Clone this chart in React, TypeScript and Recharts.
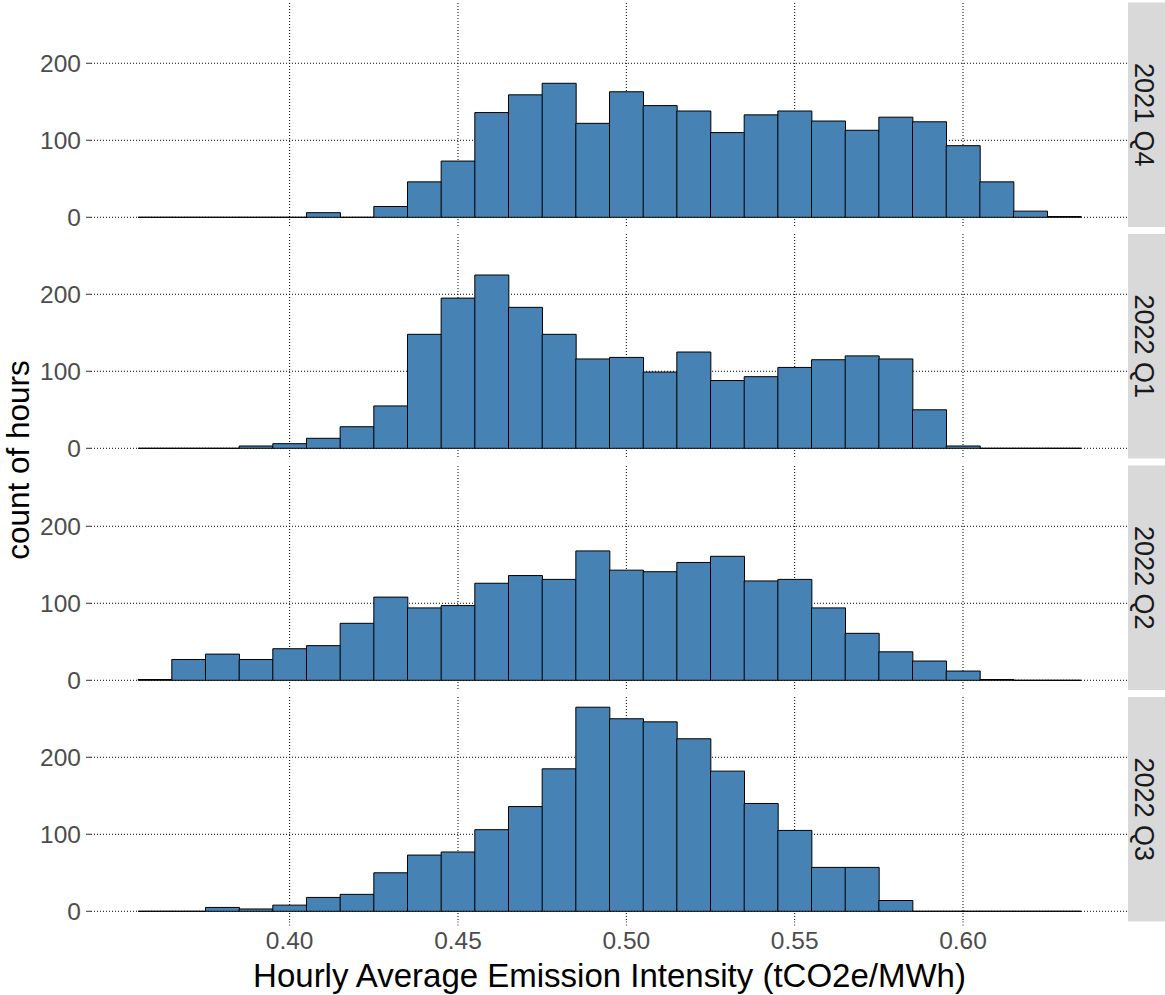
import React from 'react';
import { BarChart, Bar, XAxis, YAxis, CartesianGrid } from 'recharts';

// ---- data ----
const binCenters = [
  0.36, 0.37, 0.38, 0.39, 0.40, 0.41, 0.42, 0.43, 0.44, 0.45, 0.46, 0.47, 0.48, 0.49,
  0.50, 0.51, 0.52, 0.53, 0.54, 0.55, 0.56, 0.57, 0.58, 0.59, 0.60, 0.61, 0.62, 0.63,
];
const q4_2021 = [0, 0, 0, 0, 0, 6, 0, 14, 46, 73, 136, 159, 174, 122, 163, 145, 138, 110, 133, 138, 125, 113, 130, 124, 93, 46, 8, 1];
const q1_2022 = [0, 0, 0, 3, 6, 13, 28, 55, 148, 195, 225, 183, 148, 116, 118, 99, 125, 88, 93, 105, 115, 120, 116, 50, 3, 0, 0, 0];
const q2_2022 = [1, 27, 34, 27, 41, 45, 74, 108, 94, 97, 126, 136, 131, 168, 143, 141, 153, 161, 129, 131, 94, 61, 37, 25, 12, 1, 0, 0];
const q3_2022 = [0, 0, 5, 3, 8, 18, 22, 50, 73, 77, 106, 136, 185, 265, 250, 246, 224, 182, 140, 105, 57, 57, 14, 0, 0, 0, 0, 0];
const facetLabels = ['2021 Q4', '2022 Q1', '2022 Q2', '2022 Q3'];
const facetSeries = [q4_2021, q1_2022, q2_2022, q3_2022];
const xTicks = [0.4, 0.45, 0.5, 0.55, 0.6];
const yTicks = [0, 100, 200];
const xTitle = 'Hourly Average Emission Intensity (tCO2e/MWh)';
const yTitle = 'count of hours';

// ---- layout ----
const W = 1165;
const H = 995;
const PANEL_LEFT = 91;
const PANEL_RIGHT = 1128;
const PANEL_H = 224.5;
const PANEL_TOPS = [2.5, 234, 465.5, 697];
const EXTRA_BOTTOM = 10;
const X_DOMAIN: [number, number] = [0.341, 0.649];
const Y_DOMAIN: [number, number] = [-13.25, 278.25];
const FONT = '"Liberation Sans", Arial, Helvetica, sans-serif';

const BinShape = (props: any) => {
  const { x, y, width, height } = props;
  if (x == null || y == null || width == null || height == null) return null;
  const top = height < 0 ? y + height : y;
  const h = Math.abs(height);
  return (
    <path
      d={`M${x},${top}h${width}v${h}h${-width}Z`}
      fill="#4682B4"
      stroke="#000"
      strokeWidth={1}
    />
  );
};

const EmptyTick = () => <g />;

function Panel({ values, top, last }: { values: number[]; top: number; last: boolean }) {
  const data = binCenters.map((x, i) => ({ x, count: values[i] }));
  const axisH = last ? H - (top + PANEL_H) : 0;
  const bottomMargin = last ? 0 : EXTRA_BOTTOM;
  return (
    <div style={{ position: 'absolute', left: 0, top }}>
      <BarChart
        width={PANEL_RIGHT}
        height={PANEL_H + axisH + bottomMargin}
        data={data}
        margin={{ top: 0, right: 0, left: 0, bottom: bottomMargin }}
        barCategoryGap={0}
        barGap={0}
      >
        <CartesianGrid
          stroke="#000"
          strokeDasharray="1 2"
          strokeWidth={1}
          horizontalValues={yTicks}
          verticalValues={xTicks}
        />
        {last ? (
          <XAxis
            dataKey="x"
            type="number"
            domain={X_DOMAIN}
            ticks={xTicks}
            interval={0}
            allowDataOverflow
            height={axisH}
            axisLine={false}
            tickLine={{ stroke: '#1a1a1a', strokeDasharray: '1 2' }}
            tickSize={4}
            tickMargin={6}
            tick={{ fontSize: 24.5, fill: '#4D4D4D' }}
            tickFormatter={(v: number) => v.toFixed(2)}
            label={{
              value: xTitle,
              position: 'insideBottom',
              offset: 7.7,
              fontSize: 33,
              fill: '#000',
            }}
          />
        ) : (
          <XAxis
            dataKey="x"
            type="number"
            domain={X_DOMAIN}
            ticks={xTicks}
            interval={0}
            allowDataOverflow
            height={0}
            axisLine={false}
            tickLine={false}
            tick={EmptyTick}
          />
        )}
        <YAxis
          type="number"
          domain={Y_DOMAIN}
          ticks={yTicks}
          interval={0}
          allowDataOverflow
          width={PANEL_LEFT}
          axisLine={false}
          tickLine={{ stroke: '#333' }}
          tickSize={5}
          tickMargin={5}
          tick={{ fontSize: 24.5, fill: '#4D4D4D' }}
        />
        <Bar dataKey="count" isAnimationActive={false} shape={BinShape} />
      </BarChart>
    </div>
  );
}

export default function App() {
  const firstTop = PANEL_TOPS[0];
  const lastBottom = PANEL_TOPS[PANEL_TOPS.length - 1] + PANEL_H;
  const yMid = (firstTop + lastBottom) / 2 - 2;
  const yTitleX = 29;
  return (
    <div
      style={{
        position: 'absolute',
        left: 0,
        top: 0,
        width: W,
        height: H,
        background: '#fff',
        fontFamily: FONT,
        overflow: 'hidden',
      }}
    >
      {facetSeries.map((vals, i) => (
        <Panel key={facetLabels[i]} values={vals} top={PANEL_TOPS[i]} last={i === facetSeries.length - 1} />
      ))}
      <svg
        width={W}
        height={H}
        style={{ position: 'absolute', left: 0, top: 0, pointerEvents: 'none', fontFamily: FONT }}
      >
        {facetLabels.map((lab, i) => {
          const t = PANEL_TOPS[i];
          const cx = 1143.5;
          const cy = t + PANEL_H / 2;
          return (
            <g key={lab}>
              <rect x={PANEL_RIGHT} y={t} width={W - PANEL_RIGHT} height={PANEL_H} fill="#D9D9D9" />
              <text
                x={cx}
                y={cy}
                transform={`rotate(90 ${cx} ${cy})`}
                textAnchor="middle"
                dominantBaseline="central"
                fontSize={27}
                fill="#1A1A1A"
              >
                {lab}
              </text>
            </g>
          );
        })}
        <text
          x={yTitleX}
          y={yMid}
          transform={`rotate(-90 ${yTitleX} ${yMid})`}
          textAnchor="middle"
          fontSize={31.5}
          fill="#000"
        >
          {yTitle}
        </text>
      </svg>
    </div>
  );
}
